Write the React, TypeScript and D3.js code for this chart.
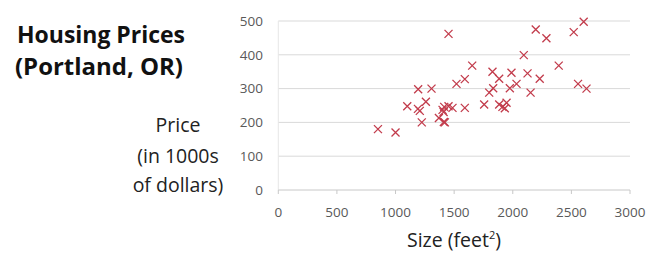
import React from "react";
import * as d3 from "d3";

const sizes = [850, 1000, 1100, 1193, 1191, 1207, 1224, 1259, 1307, 1370, 1401, 1412, 1415, 1410, 1421, 1452, 1486, 1452, 1520, 1591, 1654, 1591, 1756, 1799, 1833, 1827, 1884, 1884, 1912, 1932, 1947, 1975, 1989, 2032, 2094, 2126, 2152, 2196, 2230, 2287, 2392, 2520, 2557, 2605, 2629];
const prices = [180, 170, 248, 298, 240, 234, 200, 261, 300, 213, 237, 201, 246, 231, 200, 248, 243, 462, 314, 328, 368, 243, 253, 288, 301, 350, 329, 253, 246, 242, 258, 301, 347, 314, 399, 345, 288, 475, 329, 449, 368, 467, 314, 498, 300];
const xTicks = [0, 500, 1000, 1500, 2000, 2500, 3000];
const yTicks = [0, 100, 200, 300, 400, 500];

const W = 666, H = 264;
const FONT = "'Open Sans', 'Noto Sans', sans-serif";

export default function App() {
  const x = d3.scaleLinear().domain([0, 3000]).range([278.3, 630]);
  const y = d3.scaleLinear().domain([0, 500]).range([190, 21]);
  const pts = sizes.map((s, i) => ({ s, p: prices[i] }));
  const r = 4;
  return (
    <svg width={W} height={H} style={{ position: "absolute", left: 0, top: 0, background: "#fff" }}>
      <rect width={W} height={H} fill="#fff" />
      {yTicks.map((t) => (
        <g key={t}>
          {t > 0 && (
            <line x1={x(0)} x2={x(3000)} y1={y(t)} y2={y(t)} stroke="#d9d9d9" strokeWidth={1} />
          )}
          <text x={263} y={y(t)} dy="0.35em" textAnchor="end" fontFamily={FONT} fontSize={13.5} fill="#595959">
            {t}
          </text>
        </g>
      ))}
      <line x1={x(0)} x2={x(0)} y1={y(0)} y2={y(500)} stroke="#e6e6e6" strokeWidth={1} />
      <line x1={x(0)} x2={x(3000)} y1={y(0)} y2={y(0)} stroke="#c8c8c8" strokeWidth={1} />
      {xTicks.map((t) => (
        <g key={t}>
          <line x1={x(t)} x2={x(t)} y1={y(0)} y2={y(0) + 4} stroke="#c8c8c8" strokeWidth={1} />
          <text x={x(t)} y={y(0) + 27} textAnchor="middle" fontFamily={FONT} fontSize={13.5} fill="#595959">
            {t}
          </text>
        </g>
      ))}
      {pts.map((d, i) => {
        const cx = x(d.s), cy = y(d.p);
        return (
          <path
            key={i}
            d={`M${cx - r},${cy - r}L${cx + r},${cy + r}M${cx - r},${cy + r}L${cx + r},${cy - r}`}
            stroke="#c23b4b"
            strokeWidth={1.3}
            fill="none"
          />
        );
      })}
      <text x={17} y={43} fontFamily={FONT} fontWeight="bold" fontSize={24} fill="#111" textLength={168} lengthAdjust="spacingAndGlyphs">
        Housing Prices
      </text>
      <text x={15} y={75} fontFamily={FONT} fontWeight="bold" fontSize={24} fill="#111" textLength={168} lengthAdjust="spacingAndGlyphs">
        (Portland, OR)
      </text>
      <g fontFamily={FONT} fontSize={19.5} fill="#222" textAnchor="middle">
        <text x={178} y={132}>Price</text>
        <text x={178} y={163}>(in 1000s</text>
        <text x={178} y={192}>of dollars)</text>
      </g>
      <text x={454} y={247} textAnchor="middle" fontFamily={FONT} fontSize={19.5} fill="#222">
        Size (feet<tspan fontSize={11} dy={-8}>2</tspan><tspan dy={8}>)</tspan>
      </text>
    </svg>
  );
}
